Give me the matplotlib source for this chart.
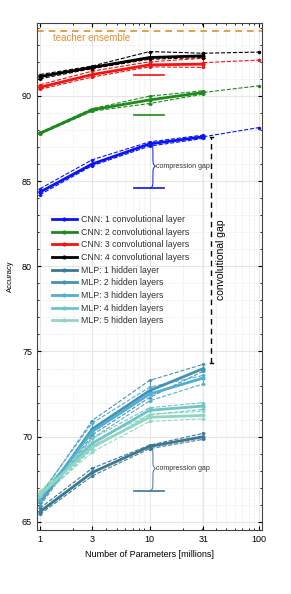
import numpy as np
import matplotlib.pyplot as plt
from matplotlib.lines import Line2D
from matplotlib.ticker import FixedLocator, NullFormatter, LogLocator

plt.rcParams['font.family'] = ['Liberation Sans', 'DejaVu Sans']

# data
params = [1, 3, 10, 31]
params_ext = [31, 100]

cnn_labels = ['CNN: 1 convolutional layer', 'CNN: 2 convolutional layers',
              'CNN: 3 convolutional layers', 'CNN: 4 convolutional layers']
cnn_mean = [[84.35, 86.0, 87.18, 87.6],
            [87.8, 89.18, 89.76, 90.2],
            [90.5, 91.25, 91.82, 91.86],
            [91.13, 91.67, 92.25, 92.35]]
cnn_hi = [[84.55, 86.25, 87.3, 87.7],
          [87.85, 89.25, 89.98, 90.3],
          [90.65, 91.45, 92.0, 92.2],
          [91.25, 91.75, 92.6, 92.5]]
cnn_lo = [[84.2, 85.9, 87.05, 87.5],
          [87.75, 89.1, 89.55, 90.1],
          [90.38, 91.1, 91.7, 91.67],
          [91.0, 91.6, 92.15, 92.25]]
cnn_ext = [[87.6, 88.14], [90.2, 90.59], [91.95, 92.1], [92.5, 92.57]]
cnn_shallow = [84.57, 88.9, 91.2]

mlp_labels = ['MLP: 1 hidden layer', 'MLP: 2 hidden layers', 'MLP: 3 hidden layers',
              'MLP: 4 hidden layers', 'MLP: 5 hidden layers']
mlp_mean = [[65.6, 67.9, 69.43, 70.0],
            [66.15, 70.45, 72.7, 74.0],
            [66.3, 70.3, 72.5, 73.45],
            [66.5, 69.6, 71.55, 71.8],
            [66.6, 69.4, 71.14, 71.25]]
mlp_hi = [[65.8, 68.15, 69.5, 70.2],
          [66.5, 70.95, 73.3, 74.25],
          [66.6, 70.8, 72.9, 73.6],
          [66.7, 69.9, 71.7, 72.0],
          [66.8, 69.7, 71.3, 71.5]]
mlp_lo = [[65.45, 67.7, 69.3, 69.85],
          [65.95, 70.1, 72.3, 73.85],
          [66.1, 69.9, 72.1, 73.1],
          [66.3, 69.3, 71.3, 71.6],
          [66.4, 69.1, 70.9, 71.05]]
mlp_shallow = 66.82

teacher = 93.8
conv_gap = [74.3, 87.6]

cnn_colors = ['#0a14f5', '#1e8a1e', '#f01414', '#000000']
mlp_colors = ['#3b7893', '#4592b8', '#4fb0cf', '#6fc4c6', '#92d6c0']

fig = plt.figure(figsize=(2.91, 5.94), dpi=100)
ax = fig.add_axes([0.127, 0.107, 0.773, 0.855])
ax.set_xscale('log')

ax.axhline(teacher, color='#e0902c', ls='--', lw=1.2, dashes=(4, 3))
ax.text(1.31, 93.4, 'teacher ensemble', color='#e0902c', fontsize=7, va='center')

handles = []
for i in range(4):
    c = cnn_colors[i]
    ax.plot(params, cnn_hi[i], color=c, ls='--', lw=0.8, marker='.', ms=2.5)
    ax.plot(params, cnn_lo[i], color=c, ls='--', lw=0.8, marker='.', ms=2.5)
    ax.plot(params_ext, cnn_ext[i], color=c, ls='--', lw=0.8, marker='.', ms=3)
    err = [np.array(cnn_mean[i]) - np.array(cnn_lo[i]), np.array(cnn_hi[i]) - np.array(cnn_mean[i])]
    ax.errorbar(params, cnn_mean[i], yerr=err, color=c, lw=2, marker='.', ms=4,
                capsize=1.5, elinewidth=0.8)
    handles.append(Line2D([], [], color=c, lw=2, marker='.', ms=4, label=cnn_labels[i]))
for i, y in enumerate(cnn_shallow):
    ax.plot([7.2, 13.6], [y, y], color=cnn_colors[i], lw=1.2)

for i in range(5):
    c = mlp_colors[i]
    ax.plot(params, mlp_hi[i], color=c, ls='--', lw=0.8, marker='.', ms=2.5)
    ax.plot(params, mlp_lo[i], color=c, ls='--', lw=0.8, marker='.', ms=2.5)
    err = [np.array(mlp_mean[i]) - np.array(mlp_lo[i]), np.array(mlp_hi[i]) - np.array(mlp_mean[i])]
    ax.errorbar(params, mlp_mean[i], yerr=err, color=c, lw=2, marker='.', ms=4,
                capsize=1.5, elinewidth=0.8)
    handles.append(Line2D([], [], color=c, lw=2, marker='.', ms=4, label=mlp_labels[i]))
ax.plot([7.2, 13.6], [mlp_shallow, mlp_shallow], color=mlp_colors[0], lw=1.2)


# curly brace opening to the left, tip pointing right
def brace(x, y0, y1, color, text, w=0.045, beta=40.0):
    u = np.linspace(0, 0.5, 80)
    half = 1 / (1 + np.exp(-beta * (u - u[0]))) + 1 / (1 + np.exp(-beta * (u - u[-1])))
    shape = np.concatenate((half, half[-2::-1]))
    shape = (shape - shape.min()) / (shape.max() - shape.min())
    ys = np.linspace(y0, y1, len(shape))
    ax.plot(x * 10 ** (w * shape), ys, color=color, lw=0.7)
    ax.text(x * 10 ** (w * 1.15), (y0 + y1) / 2, text, fontsize=5, color='#333333', va='center')


brace(10.2, cnn_shallow[0], cnn_mean[0][2], cnn_colors[0], 'compression gap')
brace(10.2, mlp_shallow, mlp_mean[0][2], mlp_colors[0], 'compression gap')

# convolutional gap
ax.plot([36.5, 36.5], conv_gap, color='black', ls='--', lw=1, dashes=(4, 3))
ax.plot([35.3, 37.7], [conv_gap[0], conv_gap[0]], color='black', lw=1)
ax.plot([35.3, 37.7], [conv_gap[1], conv_gap[1]], color='black', lw=1)
ax.text(44.5, 80.4, 'convolutional gap', rotation=90, fontsize=7.5, va='center', ha='center')

ax.set_xlim(0.94, 106)
ax.set_ylim(64.5, 94.3)
ax.xaxis.set_major_locator(FixedLocator([1, 3, 10, 31, 100]))
ax.set_xticklabels(['1', '3', '10', '31', '100'])
ax.xaxis.set_minor_locator(LogLocator(subs=np.arange(2, 10)))
ax.xaxis.set_minor_formatter(NullFormatter())
ax.set_yticks([65, 70, 75, 80, 85, 90])
ax.set_yticks(np.arange(65, 95), minor=True)
ax.tick_params(which='both', direction='in', top=True, right=True, labelsize=6.5, length=3)
ax.tick_params(which='minor', length=1.5)
ax.grid(True, which='major', color='#e6e6e6', lw=0.8)
ax.grid(True, which='minor', color='#ececec', lw=0.5, ls='--')
for s in ax.spines.values():
    s.set_color('#444444')

ax.set_xlabel('Number of Parameters [millions]', fontsize=6.5)
ax.set_ylabel('Accuracy', fontsize=5.5, labelpad=6)
ax.legend(handles=handles, loc='upper left', bbox_to_anchor=(0.05, 0.628), frameon=False,
          fontsize=6.3, handlelength=2.9, labelspacing=0.42, handletextpad=0.4, borderaxespad=0,
          labelcolor='#333333')

fig.savefig('out.png', dpi=100)
